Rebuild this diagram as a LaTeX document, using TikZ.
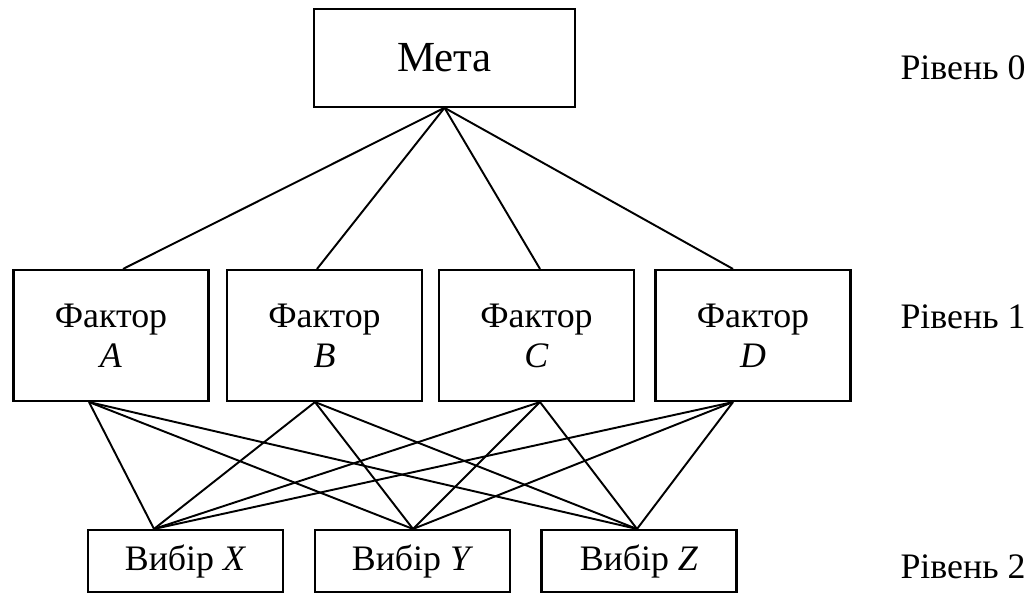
\documentclass[tikz,border=0pt]{standalone}
\usepackage{fontspec}
\setmainfont{Liberation Serif}

\tikzset{
	box/.style={draw, line width=0.6pt, minimum width=1.95cm, inner sep=0pt, align=center, font=\fontsize{10.2}{11.4}\selectfont},
	link/.style={line width=0.55pt},
	level/.style={font=\fontsize{10.2}{11.4}\selectfont}
}

\begin{document}
\begin{tikzpicture}
	\useasboundingbox (0,0) rectangle (10.34,-5.94);

	\node[box, minimum width=2.61cm, minimum height=0.975cm, font=\fontsize{12.2}{14}\selectfont] (goal) at (4.445,-0.58) {Мета};

	\node[box, minimum height=1.31cm] (fA) at (1.11,-3.355) {Фактор\\\textit{A}};
	\node[box, minimum height=1.31cm] (fB) at (3.245,-3.355) {Фактор\\\textit{B}};
	\node[box, minimum height=1.31cm] (fC) at (5.365,-3.355) {Фактор\\\textit{C}};
	\node[box, minimum height=1.31cm] (fD) at (7.53,-3.355) {Фактор\\\textit{D}};

	\node[box, minimum height=0.62cm] (cX) at (1.855,-5.61) {Вибір \textit{X}};
	\node[box, minimum height=0.62cm] (cY) at (4.125,-5.61) {Вибір \textit{Y}};
	\node[box, minimum height=0.62cm] (cZ) at (6.39,-5.61) {Вибір \textit{Z}};

	\node[level] (lev0) at (9.63,-0.68) {Рівень 0};
	\node[level] (lev1) at (9.63,-3.17) {Рівень 1};
	\node[level] (lev2) at (9.63,-5.67) {Рівень 2};

	\coordinate (bA) at ([xshift=-0.22cm]fA.south);
	\coordinate (bB) at ([xshift=-0.095cm]fB.south);
	\coordinate (bC) at ([xshift=0.035cm]fC.south);
	\coordinate (bD) at ([xshift=-0.2cm]fD.south);
	\coordinate (tX) at ([xshift=-0.315cm]cX.north);
	\coordinate (tY) at ([xshift=0.005cm]cY.north);
	\coordinate (tZ) at ([xshift=-0.02cm]cZ.north);

	\draw[link] (goal.south) -- ([xshift=0.12cm]fA.north);
	\draw[link] (goal.south) -- ([xshift=-0.075cm]fB.north);
	\draw[link] (goal.south) -- ([xshift=0.035cm]fC.north);
	\draw[link] (goal.south) -- ([xshift=-0.2cm]fD.north);

	\draw[link] (bA) -- (tX);
	\draw[link] (bA) -- (tY);
	\draw[link] (bA) -- (tZ);
	\draw[link] (bB) -- (tX);
	\draw[link] (bB) -- (tY);
	\draw[link] (bB) -- (tZ);
	\draw[link] (bC) -- (tX);
	\draw[link] (bC) -- (tY);
	\draw[link] (bC) -- (tZ);
	\draw[link] (bD) -- (tX);
	\draw[link] (bD) -- (tY);
	\draw[link] (bD) -- (tZ);
\end{tikzpicture}
\end{document}
